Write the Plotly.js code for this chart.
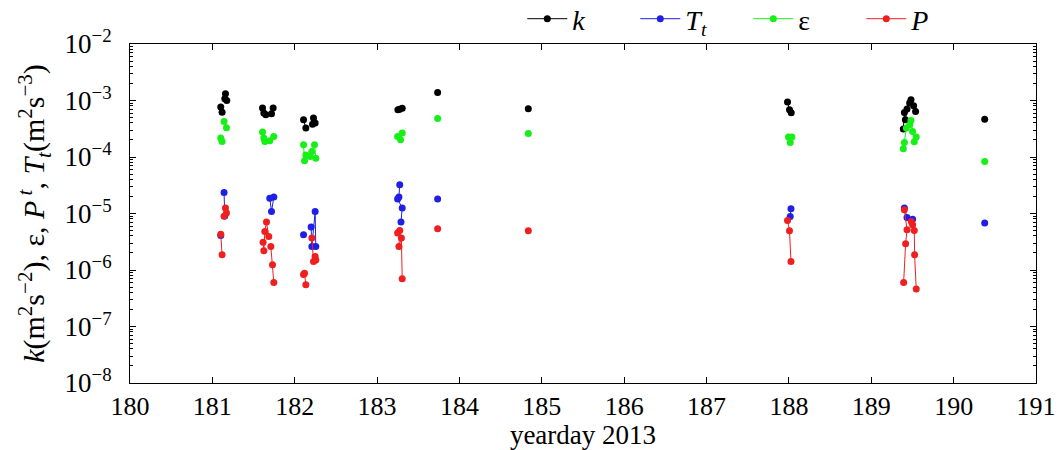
<!DOCTYPE html>
<html>
<head>
<meta charset="utf-8">
<script src="https://cdn.plot.ly/plotly-3.0.1.min.js"></script>
<style>html,body{margin:0;padding:0;background:#fff;}#chart{width:1062px;height:450px;}</style>
</head>
<body>
<div id="chart"></div>
<script>
// yearday (null separates profile groups)
const kTime = [181.102,181.118,null,181.151,181.159,181.175,null,
  181.609,181.625,181.649,null,181.718,181.738,null,
  182.107,182.135,null,182.216,182.228,182.248,null,
  183.253,183.275,183.305,null,183.735,null,184.836,null,
  187.983,188.007,188.028,null,
  189.389,189.402,189.414,189.434,null,189.466,189.482,189.514,189.538,null,190.377];
const kVals = [7.7e-4,6.2e-4,null,1.07e-3,1.31e-3,1.0e-3,null,
  7.4e-4,6.0e-4,5.6e-4,null,5.8e-4,7.4e-4,null,
  4.55e-4,3.25e-4,null,3.8e-4,4.9e-4,4.0e-4,null,
  6.85e-4,7.0e-4,7.3e-4,null,1.39e-3,null,7.13e-4,null,
  9.37e-4,6.85e-4,6.1e-4,null,
  3.12e-4,6.15e-4,4.55e-4,7.05e-4,null,9.0e-4,1.03e-3,8.1e-4,6.4e-4,null,4.68e-4];

const ttTime = [181.102,null,181.142,181.151,null,
  181.697,181.718,181.746,null,
  182.107,null,182.199,182.208,182.248,182.256,null,
  183.275,183.265,183.249,183.305,183.290,null,183.735,null,
  188.016,188.025,null,
  189.402,189.434,null,189.502,null,190.377];
const ttVals = [4.1e-6,null,2.35e-5,9.0e-6,null,
  1.87e-5,1.08e-5,1.95e-5,null,
  4.2e-6,null,5.75e-6,2.6e-6,1.08e-5,2.6e-6,null,
  3.22e-5,1.95e-5,1.8e-5,1.25e-5,7.05e-6,null,1.8e-5,null,
  8.86e-6,1.21e-5,null,
  1.25e-5,8.5e-6,null,7.95e-6,null,6.76e-6];

const epsTime = [181.102,181.118,null,181.142,181.171,null,
  181.609,181.625,181.637,null,181.697,181.746,null,
  182.107,182.119,182.135,null,182.187,182.208,182.240,182.256,null,
  183.249,183.285,183.305,null,183.735,null,184.836,null,
  187.995,188.016,188.036,null,
  189.389,189.402,189.426,null,189.466,189.482,189.502,189.522,189.546,null,190.377];
const epsVals = [2.16e-4,1.88e-4,null,4.25e-4,3.3e-4,null,
  2.76e-4,2.16e-4,1.88e-4,null,1.93e-4,2.3e-4,null,
  1.64e-4,8.6e-5,1.09e-4,null,1.02e-4,1.25e-4,1.64e-4,9.5e-5,null,
  2.3e-4,2.01e-4,2.65e-4,null,4.8e-4,null,2.6e-4,null,
  2.25e-4,1.81e-4,2.25e-4,null,
  1.4e-4,1.81e-4,3.25e-4,null,3.71e-4,4.43e-4,2.83e-4,1.86e-4,2.25e-4,null,8.3e-5];

const pTime = [181.102,181.118,null,181.142,181.159,181.171,null,
  181.616,181.625,181.637,181.657,181.685,null,181.710,181.730,181.746,null,
  182.107,182.119,182.135,null,182.208,182.228,182.248,182.256,null,
  183.249,183.275,183.265,183.295,183.305,null,183.735,null,184.836,null,
  187.983,188.007,188.025,null,
  189.402,189.434,189.417,189.393,null,189.486,189.502,189.522,189.526,189.546];
const pVals = [4.3e-6,1.86e-6,null,8.9e-6,1.25e-5,1.02e-5,null,
  3.1e-6,2.19e-6,4.8e-6,7.05e-6,3.9e-6,null,2.6e-6,1.24e-6,6.0e-7,null,
  8.3e-7,8.8e-7,5.5e-7,null,3.67e-6,1.41e-6,1.74e-6,1.5e-6,null,
  4.5e-6,5.0e-6,2.6e-6,3.67e-6,7.0e-7,null,5.37e-6,null,4.94e-6,null,
  7.5e-6,4.94e-6,1.41e-6,null,
  1.16e-5,5.15e-6,2.91e-6,6.0e-7,null,7.2e-6,6.3e-6,5.0e-6,1.86e-6,4.6e-7];

const seriesNames = ['<i>k</i>', '<i>T</i><sub><i>t</i></sub>', 'ε', '<i>P</i>'];
const seriesColors = ['#000000', '#1f1fe6', '#17f017', '#f01f1f'];

const yTickVals = [1e-8,1e-7,1e-6,1e-5,1e-4,1e-3,1e-2];
const yTickText = ['10<sup>−8</sup>','10<sup>−7</sup>','10<sup>−6</sup>','10<sup>−5</sup>','10<sup>−4</sup>','10<sup>−3</sup>','10<sup>−2</sup>'];

const minorVals = [];
for (let e = -8; e < -2; e++) for (let m = 2; m <= 9; m++) minorVals.push(m * Math.pow(10, e));

const xs = [kTime, ttTime, epsTime, pTime];
const ys = [kVals, ttVals, epsVals, pVals];
const traces = xs.map((x, i) => ({
  x: x, y: ys[i], name: seriesNames[i], type: 'scatter', mode: 'lines+markers',
  connectgaps: false,
  line: {color: seriesColors[i], width: 1},
  marker: {color: seriesColors[i], size: 7}
}));

const font = 'Liberation Serif, Times New Roman, serif';
const layout = {
  width: 1062, height: 450,
  margin: {l: 130, r: 26, t: 44, b: 67, autoexpand: false},
  paper_bgcolor: '#fff', plot_bgcolor: '#fff',
  font: {family: font, size: 26, color: '#000'},
  showlegend: true,
  legend: {orientation: 'h', x: 0.433, y: 1.0, xanchor: 'left', yanchor: 'bottom',
           font: {family: font, size: 28}, bgcolor: 'rgba(0,0,0,0)',
           entrywidth: 58, entrywidthmode: 'pixels', itemwidth: 40, tracegroupgap: 0},
  xaxis: {
    range: [180, 191], dtick: 1, tick0: 180,
    ticks: 'inside', ticklen: 6, tickwidth: 1, tickcolor: '#000',
    showline: true, linecolor: '#000', linewidth: 1, mirror: 'ticks',
    showgrid: false, zeroline: false,
    tickfont: {family: font, size: 26},
    title: {text: 'yearday 2013', font: {family: font, size: 27}, standoff: 6}
  },
  yaxis: {
    type: 'log', range: [-8, -2],
    tickmode: 'array', tickvals: yTickVals, ticktext: yTickText,
    ticks: 'inside', ticklen: 6, tickwidth: 1, tickcolor: '#000',
    ticklabelstandoff: 12,
    minor: {tickmode: 'array', tickvals: minorVals, ticks: 'inside', ticklen: 3, tickcolor: '#000', showgrid: false},
    showline: true, linecolor: '#000', linewidth: 1, mirror: 'ticks',
    showgrid: false, zeroline: false,
    tickfont: {family: font, size: 27},
    title: {text: '<i>k</i>(m<sup>2</sup>s<sup>−2</sup>), ε, <i>P</i><sup> <i>t</i></sup>, <i>T</i><sub><i>t</i></sub>(m<sup>2</sup>s<sup>−3</sup>)',
            font: {family: font, size: 30}, standoff: 10}
  }
};

Plotly.newPlot('chart', traces, layout, {displayModeBar: false, staticPlot: true});
</script>
</body>
</html>
